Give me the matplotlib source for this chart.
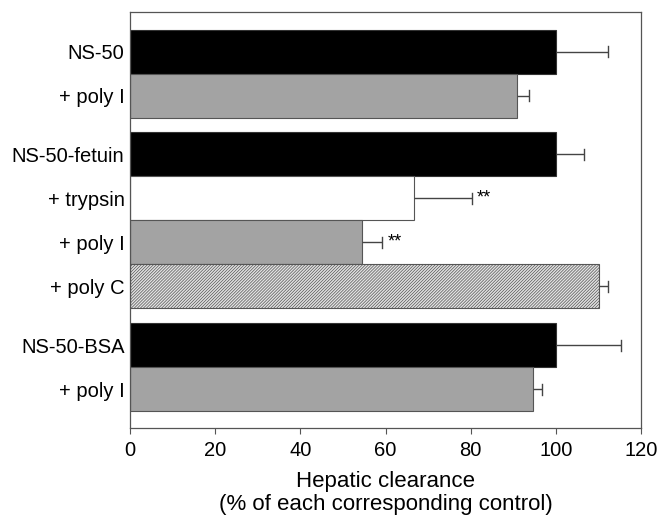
import numpy as np
import matplotlib.pyplot as plt

labels = ["NS-50", "+ poly I", "NS-50-fetuin", "+ trypsin", "+ poly I", "+ poly C", "NS-50-BSA", "+ poly I"]
groups = [0, 0, 1, 1, 1, 1, 2, 2]
values = [100, 90.9, 100, 66.7, 54.5, 110.1, 100, 94.6]
errors = [12.3, 2.8, 6.6, 13.6, 4.7, 2.2, 15.3, 2.2]
stars = ["", "", "", "**", "**", "", "", ""]
kinds = ["black", "gray", "black", "white", "gray", "hatch", "black", "gray"]

plt.rcParams['font.family'] = ['Liberation Sans', 'DejaVu Sans']
plt.rcParams['hatch.color'] = "#5a5a5a"
plt.rcParams['hatch.linewidth'] = 0.5

fig = plt.figure(figsize=(6.58, 5.17), dpi=100)
ax = fig.add_axes([130 / 658, 1 - 428 / 517, 511 / 658, 416 / 517])

# positions: one unit per bar, extra gap between groups
pos = np.arange(len(values)) + 0.9 + 0.34 * np.array(groups)

for y, v, e, k, s in zip(pos, values, errors, kinds, stars):
    if k == "black":
        ax.barh(y, v, height=1.0, color="black", edgecolor="#333333", linewidth=0.8)
    elif k == "gray":
        ax.barh(y, v, height=1.0, color="#a3a3a3", edgecolor="#555555", linewidth=0.8)
    elif k == "white":
        ax.barh(y, v, height=1.0, color="white", edgecolor="#555555", linewidth=0.8)
    else:
        ax.barh(y, v, height=1.0, color="#e2e2e2", edgecolor="#555555", hatch="/" * 11, linewidth=0.8)
    ax.errorbar(v + e / 2, y, xerr=e / 2, fmt="none", ecolor="#444444", elinewidth=1.0)
    ax.plot([v + e, v + e], [y - 0.13, y + 0.13], color="#444444", lw=1.0)
    if s:
        ax.text(v + e + 1.2, y, s, ha="left", va="center", fontsize=13)

ax.set_xlim(0, 120)
ax.set_ylim(pos[-1] + 0.88, 0)
ax.set_yticks(pos)
ax.set_yticklabels(labels, fontsize=14.5)
ax.tick_params(axis="y", length=0, pad=4)
ax.set_xticks(range(0, 121, 20))
ax.tick_params(axis="x", length=4, width=0.8, labelsize=14.5, pad=5, color="#555555")
for sp in ax.spines.values():
    sp.set_color("#555555")
    sp.set_linewidth(0.9)
ax.set_xlabel("Hepatic clearance\n(% of each corresponding control)", fontsize=16, labelpad=8, linespacing=1.15)

fig.savefig("out.png", dpi=100)
